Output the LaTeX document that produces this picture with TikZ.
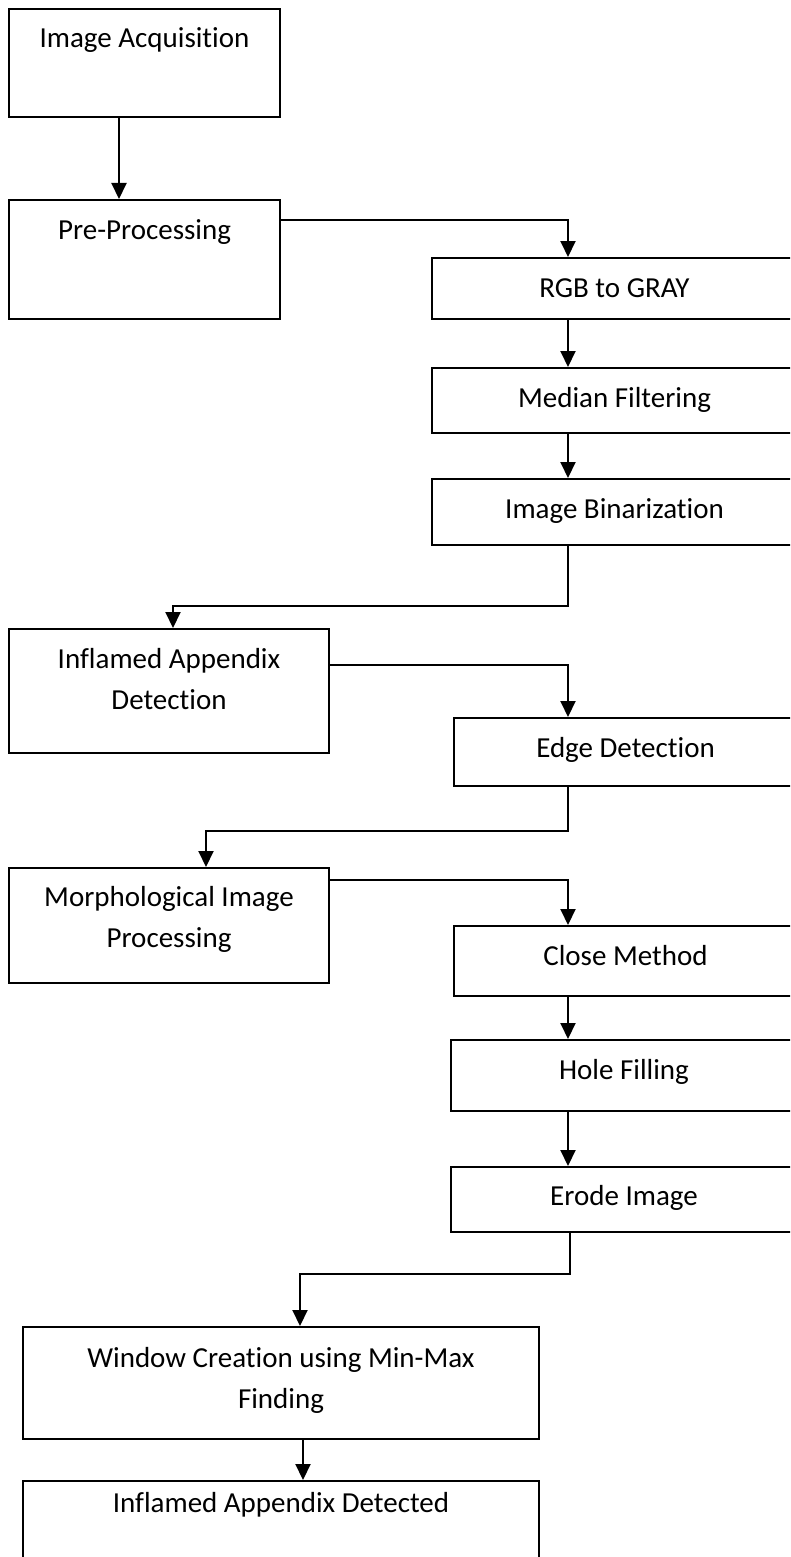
\documentclass[tikz,border=0pt]{standalone}
\usepackage{fontspec}
\setmainfont{Carlito}[Ligatures=NoCommon]
\usetikzlibrary{arrows.meta}
\begin{document}
\begin{tikzpicture}[x=1pt, y=-1pt,
  box/.style={draw=black, line width=2pt, rectangle, inner sep=0pt},
  lbl/.style={anchor=base, align=center, inner sep=0pt,
              font=\fontsize{29}{41}\selectfont},
  link/.style={line width=2pt},
  arr/.style={link, -{Triangle[length=16pt, width=15pt]}}]
\useasboundingbox (0,0) rectangle (790,1557);
\clip (0,0) rectangle (790,1557);

% left column boxes
\node[box, minimum width=271pt, minimum height=108pt] (ia)  at (144.5,63)   {};
\node[box, minimum width=271pt, minimum height=119pt] (pp)  at (144.5,259.5) {};
% pre-processing steps
\node[box, minimum width=365pt, minimum height=61pt]  (rgb) at (614.5,288.5) {};
\node[box, minimum width=365pt, minimum height=65pt]  (med) at (614.5,400.5) {};
\node[box, minimum width=365pt, minimum height=66pt]  (bin) at (614.5,512)   {};
% detection
\node[box, minimum width=320pt, minimum height=124pt] (inf) at (169,691)     {};
\node[box, minimum width=343pt, minimum height=68pt]  (edg) at (625.5,752)   {};
% morphology
\node[box, minimum width=320pt, minimum height=115pt] (mor) at (169,925.5)   {};
\node[box, minimum width=343pt, minimum height=70pt]  (cls) at (625.5,961)   {};
\node[box, minimum width=346pt, minimum height=71pt]  (hol) at (624,1075.5)  {};
\node[box, minimum width=346pt, minimum height=65pt]  (ero) at (624,1199.5)  {};
% final stages
\node[box, minimum width=516pt, minimum height=112pt] (win) at (281,1383)    {};
\node[box, minimum width=516pt, minimum height=139pt] (fin) at (281,1550.5)  {};

% labels (base anchor sits on the last line's baseline)
\node[lbl] (tia)  at (144.5,48)  {Image Acquisition};
\node[lbl] (tpp)  at (144.5,239) {Pre-Processing};
\node[lbl] (trgb) at (614.5,297) {RGB to GRAY};
\node[lbl] (tmed) at (614.5,407) {Median Filtering};
\node[lbl] (tbin) at (614.5,518) {Image Binarization};
\node[lbl] (tinf) at (169,709)   {Inflamed Appendix\\Detection};
\node[lbl] (tedg) at (625.5,757) {Edge Detection};
\node[lbl] (tmor) at (169,947)   {Morphological Image\\Processing};
\node[lbl] (tcls) at (625.5,965) {Close Method};
\node[lbl] (thol) at (624,1079)  {Hole Filling};
\node[lbl] (tero) at (624,1205)  {Erode Image};
\node[lbl] (twin) at (281,1408)  {Window Creation using Min-Max\\Finding};
\node[lbl] (tfin) at (281,1512)  {Inflamed Appendix Detected};

% connectors
\draw[arr] ([xshift=-25.5pt]ia.south) -- ([xshift=-25.5pt]pp.north);
\draw[arr] ([yshift=39.5pt]pp.east) -| ([xshift=-46.5pt]rgb.north);
\draw[arr] ([xshift=-46.5pt]rgb.south) -- ([xshift=-46.5pt]med.north);
\draw[arr] ([xshift=-46.5pt]med.south) -- ([xshift=-46.5pt]bin.north);
\draw[arr] ([xshift=-46.5pt]bin.south) -- ++(0,60) -| ([xshift=4pt]inf.north);
\draw[arr] ([yshift=26pt]inf.east) -| ([xshift=-57.5pt]edg.north);
\draw[arr] ([xshift=-57.5pt]edg.south) -- ++(0,44) -| ([xshift=37pt]mor.north);
\draw[arr] ([yshift=45.5pt]mor.east) -| ([xshift=-57.5pt]cls.north);
\draw[arr] ([xshift=-57.5pt]cls.south) -- ([xshift=-56pt]hol.north);
\draw[arr] ([xshift=-56pt]hol.south) -- ([xshift=-56pt]ero.north);
\draw[arr] ([xshift=-54pt]ero.south) -- ++(0,41) -| ([xshift=19pt]win.north);
\draw[arr] ([xshift=22pt]win.south) -- ([xshift=22pt]fin.north);
\end{tikzpicture}
\end{document}
